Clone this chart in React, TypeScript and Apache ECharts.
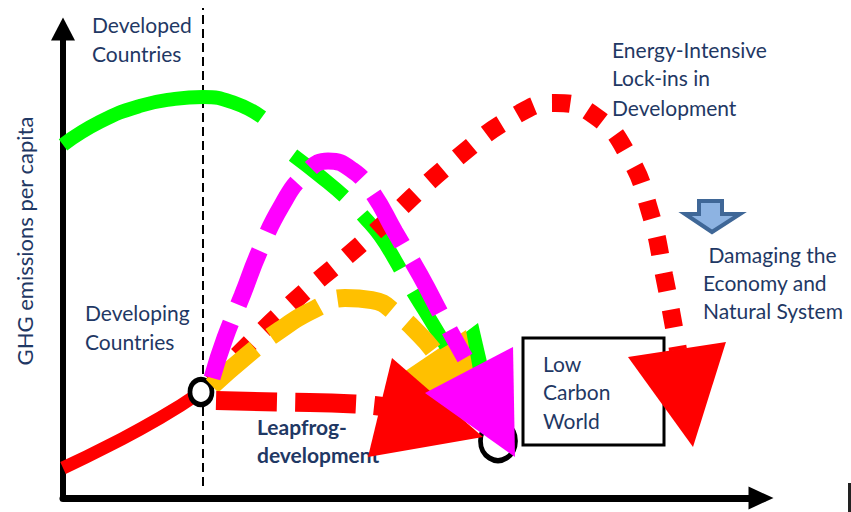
import React, { useEffect, useRef } from 'react';
import * as echarts from 'echarts';

// Abstract units: x = development stage (0-100), y = GHG emissions per capita (0-100)
const developedPath = [[0, 75.3], [5.29, 80.2], [11, 83.6], [16, 85.1], [20, 85.5], [24.57, 84.2], [28.43, 81.2]];
const developingPath = [[0, 6.4], [6.71, 11.3], [13.86, 17.06], [19.71, 22.6]];
const leapfrogPath = [[21.86, 20.79], [31, 20.47], [41.71, 20.04], [46.14, 19.4]];
const orangePath = [[21.29, 23.88], [26.0, 30.06], [31.0, 35.82], [36.0, 40.3], [40.29, 42.64], [44.14, 42.2], [47.86, 39.0], [51.0, 34.75], [52.86, 31.56]];
const magentaPath = [[21.29, 25.59], [23.14, 34.12], [25.57, 43.07], [28.14, 52.88], [31.29, 62.47], [34.29, 68.66], [37.86, 71.86], [41.29, 69.94], [44.14, 65.25], [47.43, 56.72], [51.0, 47.55], [54.57, 37.53], [57.43, 29.85]];
const greenPath = [[32.86, 73.13], [36.71, 68.66], [40.57, 63.75], [43.14, 59.7], [45.29, 55.86], [47.43, 50.75], [49.57, 44.99], [52.14, 38.81], [54.71, 32.41]];
const lockInPath = [[21.29, 24.73], [31.0, 39.23], [43.57, 55.44], [56.29, 72.49], [65.29, 82.09], [70.29, 84.22], [76.0, 81.45], [80.71, 73.13], [83.86, 60.98], [85.86, 47.55], [87.86, 31.56]];
const divider = [[20, 2.56], [20, 104.5]];
const nodes = [[19.71, 22.6], [62.14, 12.15]];
// arrowheads: [tipX, tipY, baseAX, baseAY, baseBX, baseBY]
const greenHead = [[62.43, 17.06, 59.29, 37.31, 50.71, 27.72]];
const lockInHead = [[90.0, 10.87, 80.71, 30.06, 94.71, 33.26]];
const orangeHead = [[60.14, 13.86, 47.43, 25.59, 57.57, 35.82]];
const leapfrogHead = [[60.0, 13.0, 47.0, 29.85, 43.57, 8.74]];
const magentaHead = [[64.57, 8.74, 51.71, 22.39, 64.29, 32.2]];

const TXT = '#1F3864';
const FONT = 'Lato';

function head(data: number[][], color: string) {
  return {
    type: 'custom',
    silent: true,
    clip: false,
    z: 3,
    data,
    renderItem: (_p: any, api: any) => {
      const t = api.coord([api.value(0), api.value(1)]);
      const a = api.coord([api.value(2), api.value(3)]);
      const b = api.coord([api.value(4), api.value(5)]);
      return { type: 'polygon', shape: { points: [t, a, b] }, style: { fill: color } };
    },
  };
}

function curve(data: number[][], color: string, width: number, dash: any, z = 3, smooth: any = true) {
  return {
    type: 'line',
    data,
    smooth,
    z,
    symbol: 'none',
    silent: true,
    clip: false,
    lineStyle: { color, width, type: dash, cap: 'butt' },
  };
}

function label(text: string, x: number, y: number, bold = false) {
  return {
    type: 'text',
    x,
    y,
    style: {
      text,
      fill: TXT,
      fontSize: 21,
      fontFamily: FONT,
      fontWeight: bold ? 'bold' : 'normal',
      align: 'left',
      verticalAlign: 'middle',
    },
  };
}

export default function App() {
  const ref = useRef<HTMLDivElement>(null);
  useEffect(() => {
    if (!ref.current) return;
    const chart = echarts.init(ref.current, undefined, { renderer: 'svg' });
    chart.setOption({
      animation: false,
      backgroundColor: '#fff',
      grid: { left: 63, right: 88, top: 29, bottom: 14, containLabel: false },
      xAxis: {
        type: 'value', min: 0, max: 100,
        axisLine: { show: true, symbol: ['none', 'triangle'], symbolSize: [23, 25], symbolOffset: [0, -2], lineStyle: { color: '#000', width: 7 } },
        axisTick: { show: false }, axisLabel: { show: false }, splitLine: { show: false },
      },
      yAxis: {
        type: 'value', min: 0, max: 100,
        axisLine: { show: true, symbol: ['none', 'triangle'], symbolSize: [24, 23], lineStyle: { color: '#000', width: 6 } },
        axisTick: { show: false }, axisLabel: { show: false }, splitLine: { show: false },
      },
      graphic: [
        label('Developed', 92, 24.5),
        label('Countries', 92, 53),
        label('Developing', 85, 312),
        label('Countries', 85, 341),
        label('Leapfrog-', 257, 426, true),
        label('development', 257, 454, true),
        label('Energy-Intensive', 612, 49),
        label('Lock-ins in', 612, 77.5),
        label('Development', 612, 107),
        label(' Damaging the', 703, 254),
        label('Economy and', 703, 282),
        label('Natural System', 703, 310),
        {
          type: 'rect',
          shape: { x: 523, y: 338, width: 141, height: 107 },
          style: { fill: '#fff', stroke: '#000', lineWidth: 3 },
        },
        label('Low', 543, 363.5),
        label('Carbon', 543, 391.5),
        label('World', 543, 420.5),
        {
          type: 'text',
          x: 24,
          y: 241,
          rotation: Math.PI / 2,
          style: { text: 'GHG emissions per capita', fill: TXT, fontSize: 22, fontFamily: FONT, align: 'center', verticalAlign: 'middle' },
        },
        {
          type: 'polygon',
          shape: { points: [[699, 201], [722, 201], [722, 214], [740, 214], [712, 232], [685, 214], [699, 214]] },
          style: { fill: '#8DB3E2', stroke: '#3F6797', lineWidth: 4, lineJoin: 'miter' },
        },
        {
          type: 'rect',
          shape: { x: 848, y: 483, width: 3, height: 29 },
          style: { fill: '#222' },
        },
      ],
      series: [
        curve(divider, '#000', 2, [9, 5], 1, false),
        curve(developedPath, '#00FF00', 14, 'solid', 1),
        curve(developingPath, '#FF0000', 13, 'solid', 1),
        {
          type: 'scatter',
          silent: true,
          z: 2,
          data: nodes,
          symbol: 'circle',
          symbolSize: (_v: any, p: any) => (p.dataIndex === 0 ? [22, 25] : [35, 39]),
          itemStyle: { color: '#fff', borderColor: '#000', borderWidth: 5, opacity: 1 },
        },
        curve(greenPath, '#00FF00', 14, [66, 26]),
        head(greenHead, '#00FF00'),
        curve(lockInPath, '#FF0000', 18, [18, 19]),
        head(lockInHead, '#FF0000'),
        curve(orangePath, '#FFC000', 18, [57, 20]),
        head(orangeHead, '#FFC000'),
        curve(leapfrogPath, '#FF0000', 19, [61, 18]),
        head(leapfrogHead, '#FF0000'),
        curve(magentaPath, '#FF00FF', 17, [58, 20]),
        head(magentaHead, '#FF00FF'),
      ],
    });
    return () => chart.dispose();
  }, []);
  return <div ref={ref} style={{ position: 'absolute', left: 0, top: 0, width: 851, height: 512 }} />;
}
